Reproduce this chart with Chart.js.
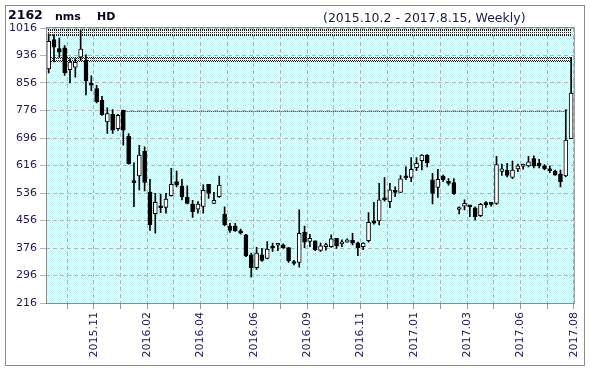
<!DOCTYPE html>
<html>
<head>
<meta charset="UTF-8">
<title>2162 nms HD weekly</title>
<style>
body {margin:0; background:#fff; font-family:"DejaVu Sans", Verdana, sans-serif}
#wrap {position:relative; width:590px; height:371px; overflow:hidden}
#c {position:absolute; left:0; top:0}
#frame {position:absolute; left:5px; top:5px; width:578px; height:359px; border:1px solid #8c8c8c}
.hd {position:absolute; line-height:1; white-space:nowrap; font-weight:bold; color:#05051e}
#code {left:8px; top:9.4px; font-size:12.5px}
#name {left:55px; top:10.7px; font-size:11px}
#mkt {left:97px; top:10.7px; font-size:11px}
#range {left:323px; top:11.9px; font-size:12.5px; font-weight:normal; color:#1a1a50}
</style>
</head>
<body>
<div id="wrap">
  <canvas id="c" width="590" height="371"></canvas>
  <div id="frame"></div>
  <span class="hd" id="code">2162</span>
  <span class="hd" id="name">nms</span>
  <span class="hd" id="mkt">HD</span>
  <span class="hd" id="range">(2015.10.2 - 2017.8.15, Weekly)</span>
</div>

<script src="https://cdn.jsdelivr.net/npm/chart.js"></script>
<script>
// weekly OHLC, one entry per week from 2015.10.2
const opens  = [897,982,956,958,895,902,931,922,855,840, 806,743,765,723,777,701,570,586,658,539,
                476,498,494,528,569,556,524,504,489,497, 561,506,525,475,440,440,426,414,356,319,
                356,346,380,384,385,377,336,334,422,395, 397,369,380,380,404,388,393,398,391,380,
                397,455,455,520,511,542,538,583,581,610, 630,646,574,552,585,567,566,488,498,497,
                493,470,508,507,506,599,602,581,606,614, 615,636,622,615,606,600,591,586,694];
const highs  = [999,997,987,965,926,926,1009,938,877,849, 817,784,779,765,777,709,624,675,670,576,
                535,532,535,608,600,576,557,515,511,560, 561,538,585,496,448,448,431,416,361,378,
                375,395,390,388,388,377,340,487,440,416, 397,390,390,414,404,400,403,419,393,392,
                479,509,564,581,564,554,587,612,639,639, 648,648,593,605,588,578,578,496,516,500,
                496,506,511,509,643,620,622,629,620,620, 643,644,634,619,614,603,603,779,931];
const lows   = [885,917,931,878,856,873,922,821,834,798, 762,709,709,718,675,620,496,545,542,427,
                419,479,477,527,554,516,504,465,477,477, 520,505,523,440,421,424,416,351,291,314,
                337,344,366,368,375,334,327,320,377,380, 368,366,370,378,375,380,393,385,354,371,
                393,445,443,512,493,525,537,575,569,601, 603,612,504,523,569,559,532,475,487,467,
                458,467,494,498,503,587,583,578,598,605, 612,609,609,603,595,588,554,583,694];
const closes = [977,960,946,886,917,916,955,862,850,802, 764,767,719,762,719,621,566,646,567,444,
                509,493,518,561,559,525,506,482,504,544, 535,515,559,443,427,426,419,353,319,361,
                340,373,376,386,376,339,331,419,393,404, 371,382,385,403,382,390,400,390,377,390,
                451,448,516,516,545,538,577,580,605,622, 646,624,535,576,574,564,534,489,506,496,
                467,503,501,503,619,606,587,603,615,616, 627,614,615,607,600,588,569,690,827];

const yTicks = [216, 296, 376, 456, 536, 616, 696, 776, 856, 936, 1016];
const gridWeeks = [3.5, 8.5, 13.5, 18.5, 23.5, 28.5, 33.5, 38.5, 43.5, 48.5,
                   53.5, 58.5, 63.5, 68.5, 73.5, 78.5, 83.5, 88.5, 93.5, 98.5];
const xTickLabels = ['', '2015.11', '', '2016.02', '', '2016.04', '', '2016.06', '', '2016.09',
                     '', '2016.11', '', '2017.01', '', '2017.03', '', '2017.06', '', '2017.08'];

// price level bands / line (price values, week index range)
const bandLow  = [994, 917];
const bandHigh = [1013, 932];
const bandFrom = [-0.5, 0];
const bandTo   = [98, 98];
const levelLine = 775, levelFrom = 14, levelTo = 97;

const weeks = opens.map((_, i) => i);
const bodyColors = weeks.map(i => closes[i] >= opens[i] ? '#ffffff' : '#000000');

function checkerPattern(ctx, a, b) {
  const p = document.createElement('canvas');
  p.width = 2; p.height = 2;
  const g = p.getContext('2d');
  g.fillStyle = b; g.fillRect(0, 0, 2, 2);
  g.fillStyle = a; g.fillRect(0, 0, 1, 1); g.fillRect(1, 1, 1, 1);
  return ctx.createPattern(p, 'repeat');
}

function dotPattern(ctx, a) {
  const p = document.createElement('canvas');
  p.width = 2; p.height = 2;
  const g = p.getContext('2d');
  g.fillStyle = a; g.fillRect(0, 0, 1, 1);
  return ctx.createPattern(p, 'repeat');
}

const decor = {
  id: 'decor',
  beforeDraw(chart) {
    const {ctx, chartArea: a} = chart;
    ctx.save();
    ctx.fillStyle = checkerPattern(ctx, '#c4f1f1', '#fafefe');
    ctx.fillRect(a.left, a.top, a.right - a.left, a.bottom - a.top);
    ctx.restore();
  },
  beforeDatasetsDraw(chart) {
    const {ctx, scales: {x, y}} = chart;
    ctx.save();
    ctx.fillStyle = dotPattern(ctx, '#1a1a1a');
    ctx.strokeStyle = '#1a1a1a';
    ctx.lineWidth = 1;
    ctx.setLineDash([1, 1]);
    for (let k = 0; k < bandLow.length; k++) {
      const x0 = Math.round(x.getPixelForValue(bandFrom[k]));
      const x1 = Math.round(x.getPixelForValue(bandTo[k]));
      const y0 = Math.round(y.getPixelForValue(bandHigh[k]));
      const y1 = Math.round(y.getPixelForValue(bandLow[k]));
      ctx.fillRect(x0, y0, x1 - x0, y1 - y0);
      ctx.beginPath();
      ctx.moveTo(x0, y0 + 0.5); ctx.lineTo(x1, y0 + 0.5);
      ctx.moveTo(x0, y1 - 0.5); ctx.lineTo(x1, y1 - 0.5);
      ctx.stroke();
    }
    const ly = Math.round(y.getPixelForValue(levelLine)) + 0.5;
    ctx.strokeStyle = '#222';
    ctx.beginPath();
    ctx.moveTo(x.getPixelForValue(levelFrom), ly);
    ctx.lineTo(x.getPixelForValue(levelTo), ly);
    ctx.stroke();
    ctx.restore();
  },
  afterDraw(chart) {
    const {ctx, chartArea: a} = chart;
    ctx.save();
    ctx.strokeStyle = '#8a8a8a';
    ctx.lineWidth = 1;
    ctx.strokeRect(a.left + 0.5, a.top - 0.5, a.right - a.left, a.bottom - a.top + 1);
    ctx.restore();
  }
};

const tickFont = {family: 'DejaVu Sans', size: 11};

new Chart(document.getElementById('c'), {
  type: 'bar',
  data: {
    datasets: [
      {
        label: 'body',
        data: weeks.map(i => ({x: i, y: [opens[i], closes[i]]})),
        backgroundColor: bodyColors,
        borderColor: '#000',
        borderWidth: 1,
        borderSkipped: false,
        barThickness: 4,
        minBarLength: 2,
        grouped: false,
        order: 0
      },
      {
        label: 'wick',
        data: weeks.map(i => ({x: i, y: [lows[i], highs[i]]})),
        backgroundColor: '#000',
        barThickness: 1,
        grouped: false,
        order: 1
      }
    ]
  },
  options: {
    responsive: false,
    animation: false,
    layout: {padding: {left: 0, top: 28, right: 12, bottom: 0}},
    plugins: {legend: {display: false}, tooltip: {enabled: false}},
    scales: {
      x: {
        type: 'linear',
        min: -0.5,
        max: 98.5,
        offset: false,
        afterBuildTicks: s => { s.ticks = gridWeeks.map(v => ({value: v})); },
        afterFit: s => { s.height = 68; },
        grid: {offset: false, color: '#b4b4b4', tickColor: '#9a9a9a', tickLength: 6},
        border: {display: false, dash: [4, 3]},
        ticks: {
          autoSkip: false, maxRotation: 90, minRotation: 90, padding: 3,
          color: '#1a1a50', font: tickFont,
          callback: (v, i) => xTickLabels[i]
        }
      },
      y: {
        min: 216,
        max: 1016,
        afterBuildTicks: s => { s.ticks = yTicks.map(v => ({value: v})); },
        afterFit: s => { s.width = 46; },
        grid: {color: '#b4b4b4', tickColor: '#b4b4b4', tickLength: 6},
        border: {display: false, dash: [4, 3]},
        ticks: {padding: 3, color: '#1a1a50', font: tickFont, callback: v => String(v)}
      }
    }
  },
  plugins: [decor]
});
</script>
</body>
</html>
